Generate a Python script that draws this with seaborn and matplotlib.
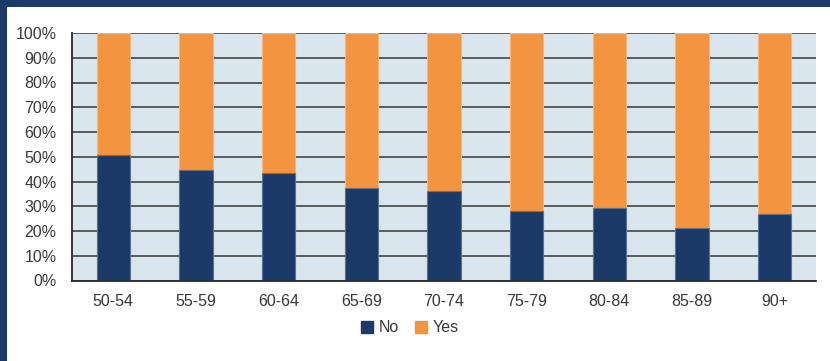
import matplotlib
matplotlib.use("Agg")
import matplotlib.pyplot as plt
from matplotlib.patches import Rectangle
from matplotlib.lines import Line2D
from matplotlib.ticker import MultipleLocator, PercentFormatter
import pandas as pd
import seaborn as sns

age_groups = ["50-54", "55-59", "60-64", "65-69", "70-74", "75-79", "80-84", "85-89", "90+"]
no_pct = [50.6, 44.6, 43.5, 37.3, 36.0, 28.0, 29.4, 21.3, 26.7]
yes_pct = [100 - v for v in no_pct]

NAVY = "#1b3a68"
ORANGE = "#f39441"
PANEL = "#dae6ee"
GRID = "#505050"
TEXT = "#383838"

sns.set_theme(style="white")
plt.rcParams["font.family"] = ["Liberation Sans", "DejaVu Sans"]

df = pd.DataFrame({"age": age_groups, "No": no_pct, "Yes": yes_pct})
df["total"] = df["No"] + df["Yes"]

fig = plt.figure(figsize=(8.3, 3.61), dpi=100)
fig.patch.set_facecolor("white")
# navy frame along the left and top edges
fig.patches.append(Rectangle((0, 0), 7 / 830, 1, transform=fig.transFigure,
                             facecolor=NAVY, edgecolor="none", zorder=0))
fig.patches.append(Rectangle((0, 1 - 7 / 361), 1, 7 / 361, transform=fig.transFigure,
                             facecolor=NAVY, edgecolor="none", zorder=0))

ax = fig.add_axes([72 / 830, 1 - 280.5 / 361, (816 - 72) / 830, 247.5 / 361])
ax.set_facecolor(PANEL)

# stacked bars: full column in orange, "No" share over it in navy
sns.barplot(data=df, x="age", y="total", color=ORANGE, width=0.4, ax=ax,
            saturation=1, edgecolor="#f6b57c", linewidth=0.8, zorder=3)
sns.barplot(data=df, x="age", y="No", color=NAVY, width=0.4, ax=ax,
            saturation=1, edgecolor="#5a7397", linewidth=0.8, zorder=4)

ax.set_xlim(-0.5, len(age_groups) - 0.5)
ax.set_ylim(0, 100)
ax.yaxis.set_major_locator(MultipleLocator(10))
ax.yaxis.set_major_formatter(PercentFormatter(decimals=0))
ax.grid(axis="y", color=GRID, linewidth=1.3, zorder=1)
ax.set_axisbelow(True)
ax.set_xlabel("")
ax.set_ylabel("")

for side in ("top", "right"):
    ax.spines[side].set_visible(False)
for side in ("left", "bottom"):
    ax.spines[side].set_color("#2a2a2a")
    ax.spines[side].set_linewidth(1.3)
    ax.spines[side].set_zorder(5)

ax.tick_params(axis="both", length=0, labelsize=11.5, colors=TEXT)
ax.tick_params(axis="y", pad=11)
ax.tick_params(axis="x", pad=10)

handles = [
    Line2D([], [], marker="s", linestyle="none", markersize=8,
           markerfacecolor=NAVY, markeredgecolor=NAVY, label="No"),
    Line2D([], [], marker="s", linestyle="none", markersize=8,
           markerfacecolor=ORANGE, markeredgecolor=ORANGE, label="Yes"),
]
fig.legend(handles=handles, loc="center", bbox_to_anchor=(410 / 830, 1 - 328 / 361),
           ncol=2, frameon=False, fontsize=11.5, handlelength=0.7, handletextpad=0.4,
           columnspacing=1.0, labelcolor=TEXT)

fig.savefig("out.png", dpi=100, facecolor="white")
